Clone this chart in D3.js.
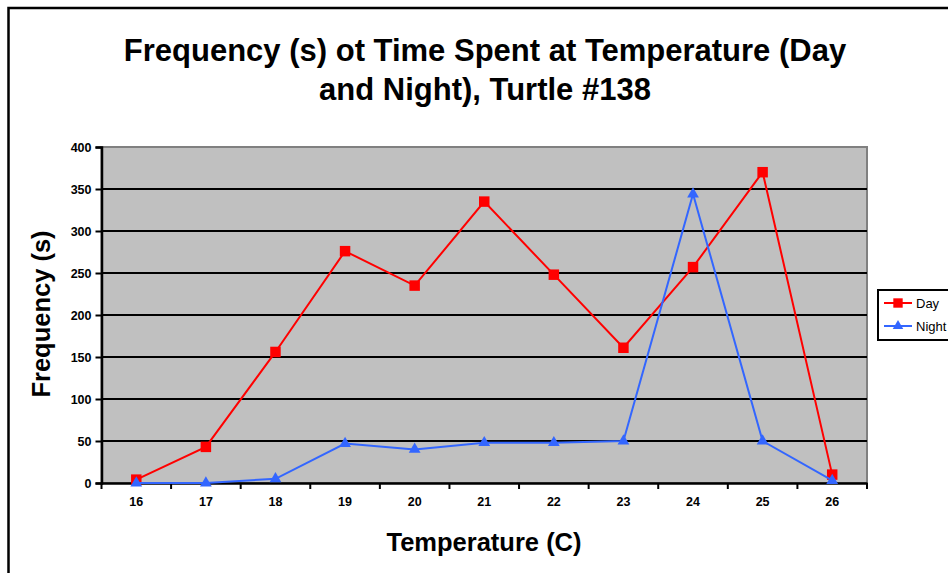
<!DOCTYPE html>
<html>
<head>
<meta charset="utf-8">
<script src="https://cdn.jsdelivr.net/npm/d3@7"></script>
<style>
  body { margin: 0; background: #fff; }
  text { font-family: "Liberation Sans", Arial, sans-serif; }
</style>
</head>
<body>
<div id="chart"></div>
<script>
// temperatures (C)
const temps = ["16", "17", "18", "19", "20", "21", "22", "23", "24", "25", "26"]
// seconds at each temperature
const dayValues = [4, 43, 156, 276, 235, 335, 248, 161, 257, 370, 10]
const nightValues = [0, 0, 5, 47, 40, 48, 48, 50, 344, 50, 3]
const yTicks = [0, 50, 100, 150, 200, 250, 300, 350, 400]

const W = 948, H = 573
const plotLeft = 101.5, plotRight = 867, plotTop = 147, plotBottom = 483

const svg = d3.select("#chart").append("svg")
    .attr("width", W)
    .attr("height", H)

// outer chart frame
svg.append("rect")
    .attr("x", 8.5).attr("y", 8)
    .attr("width", 1000).attr("height", 700)
    .attr("fill", "white")
    .attr("stroke", "black")
    .attr("stroke-width", 2.5)

var x = d3.scaleBand().domain(temps).range([plotLeft, plotRight])
var y = d3.scaleLinear().domain([0, 400]).range([plotBottom, plotTop])

// plot area
svg.append("rect")
    .attr("x", plotLeft).attr("y", plotTop)
    .attr("width", plotRight - plotLeft).attr("height", plotBottom - plotTop)
    .attr("fill", "#c0c0c0")
    .attr("stroke", "#808080")
    .attr("stroke-width", 2)

// gridlines
svg.append("g").selectAll("line")
    .data(yTicks.filter(d => d > 0 && d < 400))
    .join("line")
    .attr("x1", plotLeft).attr("x2", plotRight)
    .attr("y1", d => y(d)).attr("y2", d => y(d))
    .attr("stroke", "black")
    .attr("stroke-width", 2)

// y axis
let yAxis = svg.append("g")
    .attr("transform", `translate(${plotLeft},0)`)
    .call(d3.axisLeft(y).tickValues(yTicks).tickSize(6).tickPadding(4))
yAxis.select(".domain").attr("stroke-width", 2.5)
yAxis.selectAll(".tick line").attr("stroke-width", 2)
yAxis.selectAll("text")
    .style("font-size", "12.5px").style("font-weight", "bold")
    .style("font-family", "Liberation Sans, Arial, sans-serif")

// x axis: ticks between categories
let xAxis = svg.append("g")
    .attr("transform", `translate(0,${plotBottom})`)
    .call(d3.axisBottom(x).tickSize(0).tickPadding(14))
xAxis.select(".domain").attr("stroke-width", 2.5)
xAxis.selectAll("text")
    .style("font-size", "12.5px").style("font-weight", "bold")
    .style("font-family", "Liberation Sans, Arial, sans-serif")
xAxis.selectAll(".sep")
    .data(temps.concat(["end"]))
    .join("line")
    .attr("class", "sep")
    .attr("x1", (d, i) => plotLeft + i * x.step())
    .attr("x2", (d, i) => plotLeft + i * x.step())
    .attr("y1", 0).attr("y2", 6)
    .attr("stroke", "black")
    .attr("stroke-width", 2)

const cx = d => x(d) + x.bandwidth() / 2

const series = [
    { name: "Day", values: dayValues, color: "#ff0000", symbol: d3.symbolSquare, size: 110 },
    { name: "Night", values: nightValues, color: "#3366ff", symbol: d3.symbolTriangle, size: 60 }
]

series.forEach(s => {
    svg.append("path")
        .datum(s.values)
        .attr("fill", "none")
        .attr("stroke", s.color)
        .attr("stroke-width", 2)
        .attr("d", d3.line().x((d, i) => cx(temps[i])).y(d => y(d)))

    svg.append("g").selectAll("path")
        .data(s.values)
        .join("path")
        .attr("transform", (d, i) => `translate(${cx(temps[i])},${y(d)})`)
        .attr("d", d3.symbol().type(s.symbol).size(s.size))
        .attr("fill", s.color)
})

// titles
svg.append("text")
    .attr("x", 485).attr("y", 61)
    .attr("text-anchor", "middle")
    .style("font-size", "31px").style("font-weight", "bold")
    .text("Frequency (s) ot Time Spent at Temperature (Day")
svg.append("text")
    .attr("x", 485).attr("y", 100)
    .attr("text-anchor", "middle")
    .style("font-size", "31px").style("font-weight", "bold")
    .text("and Night), Turtle #138")

svg.append("text")
    .attr("x", 484).attr("y", 551)
    .attr("text-anchor", "middle")
    .style("font-size", "25.5px").style("font-weight", "bold")
    .text("Temperature (C)")

svg.append("text")
    .attr("transform", "translate(50,314) rotate(-90)")
    .attr("text-anchor", "middle")
    .style("font-size", "25.5px").style("font-weight", "bold")
    .text("Frequency (s)")

// legend
let legend = svg.append("g").attr("transform", "translate(878,290)")
legend.append("rect")
    .attr("width", 80).attr("height", 50)
    .attr("fill", "white")
    .attr("stroke", "black")
    .attr("stroke-width", 2)

series.forEach((s, i) => {
    let row = legend.append("g").attr("transform", `translate(0,${13 + i * 23})`)
    row.append("line")
        .attr("x1", 6).attr("x2", 34)
        .attr("stroke", s.color).attr("stroke-width", 2)
    row.append("path")
        .attr("transform", "translate(20,0)")
        .attr("d", d3.symbol().type(s.symbol).size(s.size * 0.8))
        .attr("fill", s.color)
    row.append("text")
        .attr("x", 38).attr("y", 5)
        .style("font-size", "13px")
        .style("font-weight", "normal")
        .text(s.name)
})
</script>
</body>
</html>
